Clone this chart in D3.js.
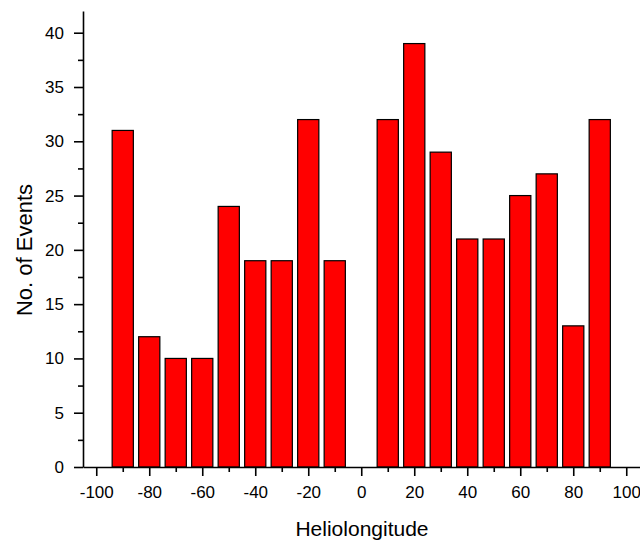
<!DOCTYPE html>
<html>
<head>
<meta charset="utf-8">
<script src="https://cdn.jsdelivr.net/npm/d3@7"></script>
<style>
  body { margin: 0; background: #fff; }
  svg { display: block; font-family: "Liberation Sans", Arial, sans-serif; }
  .bar { fill: #ff0000; stroke: #000; stroke-width: 1.2px; }
  .axis path, .axis line { stroke: #000; stroke-width: 1.6px; }
  .axis text { font-size: 17px; fill: #000; }
  .title { font-size: 21px; fill: #000; }
</style>
</head>
<body>
<svg id="chart"></svg>
<script>
// heliolongitude bins and event counts
var longitudes = [-90, -80, -70, -60, -50, -40, -30, -20, -10, 10, 20, 30, 40, 50, 60, 70, 80, 90];
var counts     = [31, 12, 10, 10, 24, 19, 19, 32, 19, 32, 39, 29, 21, 21, 25, 27, 13, 32];
var xTicks = [-100, -80, -60, -40, -20, 0, 20, 40, 60, 80, 100];
var xMinor = [-90, -70, -50, -30, -10, 10, 30, 50, 70, 90];
var yTicks = [0, 5, 10, 15, 20, 25, 30, 35, 40];
var yMinor = [2.5, 7.5, 12.5, 17.5, 22.5, 27.5, 32.5, 37.5];
var binWidth = 8;

var width = 640, height = 543;
var svg = d3.select("#chart").attr("width", width).attr("height", height);

var x = d3.scaleLinear().domain([-105, 105]).range([83, 639.5]);
var y = d3.scaleLinear().domain([0, 42]).range([467, 11]);

// plain hyphen for negatives, like the original
var fmt = function(d) { return String(d); };

// bars
svg.selectAll(".bar")
  .data(longitudes)
  .enter().append("rect")
  .attr("class", "bar")
  .attr("x", function(d) { return x(d - binWidth / 2); })
  .attr("width", function(d) { return x(d + binWidth / 2) - x(d - binWidth / 2); })
  .attr("y", function(d, i) { return y(counts[i]); })
  .attr("height", function(d, i) { return y(0) - y(counts[i]); });

// x axis
svg.append("g").attr("class", "axis")
  .attr("transform", "translate(0," + y(0) + ")")
  .call(d3.axisBottom(x).tickValues(xTicks).tickFormat(fmt).tickSize(9).tickPadding(10).tickSizeOuter(0));
svg.append("g").attr("class", "axis")
  .attr("transform", "translate(0," + y(0) + ")")
  .call(d3.axisBottom(x).tickValues(xMinor).tickSize(5).tickFormat("").tickSizeOuter(0))
  .select(".domain").remove();

// y axis
svg.append("g").attr("class", "axis")
  .attr("transform", "translate(" + x(-105) + ",0)")
  .call(d3.axisLeft(y).tickValues(yTicks).tickFormat(fmt).tickSize(9).tickPadding(10).tickSizeOuter(0));
svg.append("g").attr("class", "axis")
  .attr("transform", "translate(" + x(-105) + ",0)")
  .call(d3.axisLeft(y).tickValues(yMinor).tickSize(5).tickFormat("").tickSizeOuter(0))
  .select(".domain").remove();

// titles
svg.append("text").attr("class", "title")
  .attr("x", 362).attr("y", 536)
  .attr("text-anchor", "middle")
  .text("Heliolongitude");

svg.append("text").attr("class", "title")
  .attr("transform", "translate(32,250) rotate(-90)")
  .attr("text-anchor", "middle")
  .style("font-size", "22px")
  .text("No. of Events");
</script>
</body>
</html>
